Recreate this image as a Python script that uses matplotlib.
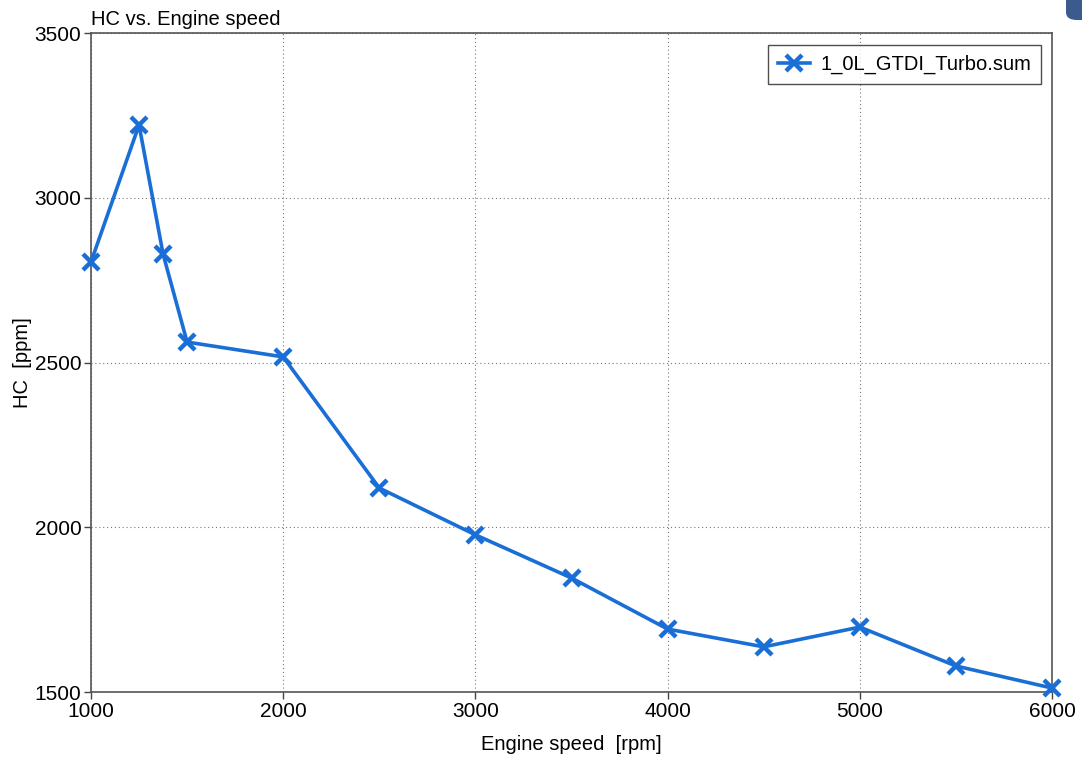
"""HC emissions vs. engine speed, single-series line chart."""

import matplotlib

matplotlib.use("Agg")

import matplotlib.pyplot as plt
from matplotlib.patches import FancyBboxPatch

plt.rcParams["font.family"] = ["Liberation Sans", "DejaVu Sans"]

speed_rpm = [1000, 1250, 1375, 1500, 2000, 2500, 3000, 3500, 4000, 4500, 5000, 5500, 6000]
hc_ppm = [2805, 3221, 2829, 2562, 2517, 2119, 1977, 1846, 1691, 1637, 1697, 1579, 1512]
series_name = "1_0L_GTDI_Turbo.sum"

x_ticks = [1000, 2000, 3000, 4000, 5000, 6000]
y_ticks = [1500, 2000, 2500, 3000, 3500]

LINE_BLUE = "#1a6fd6"

fig = plt.figure(figsize=(10.82, 7.6), dpi=100)
ax = fig.add_axes([91 / 1082, 1 - 692 / 760, 961 / 1082, 659 / 760])

ax.plot(
    speed_rpm,
    hc_ppm,
    color=LINE_BLUE,
    linewidth=2.6,
    marker="x",
    markersize=11,
    markeredgewidth=3.2,
    label=series_name,
    clip_on=False,
    zorder=3,
)

ax.set_xlim(1000, 6000)
ax.set_ylim(1500, 3500)
ax.set_xticks(x_ticks)
ax.set_yticks(y_ticks)
ax.tick_params(labelsize=15, length=5, width=1, color="#444444", pad=2)
ax.grid(True, linestyle=(0, (1, 2.5)), color="#777777", linewidth=0.8)
for spine in ax.spines.values():
    spine.set_color("#555555")
    spine.set_linewidth(1.2)

ax.set_xlabel("Engine speed  [rpm]", fontsize=14.5, labelpad=10)
ax.set_ylabel("HC  [ppm]", fontsize=14.5, labelpad=2)
ax.set_title("HC vs. Engine speed", loc="left", fontsize=14.5, pad=6, x=0.0)

leg = ax.legend(
    loc="upper right",
    bbox_to_anchor=(0.9885, 0.982),
    fontsize=14.5,
    frameon=True,
    fancybox=False,
    handlelength=1.6,
    handletextpad=0.5,
    borderpad=0.5,
    borderaxespad=0.0,
)
leg.get_frame().set_edgecolor("#222222")
leg.get_frame().set_linewidth(1.0)

# small rounded tab in the top-right corner of the screenshot
fig.patches.append(
    FancyBboxPatch(
        (1066 / 1082, 1 - 20 / 760),
        0.03,
        0.05,
        boxstyle="round,pad=0,rounding_size=0.01",
        transform=fig.transFigure,
        facecolor="#3b5b8e",
        edgecolor="none",
        figure=fig,
    )
)

fig.savefig("out.png", dpi=100)
